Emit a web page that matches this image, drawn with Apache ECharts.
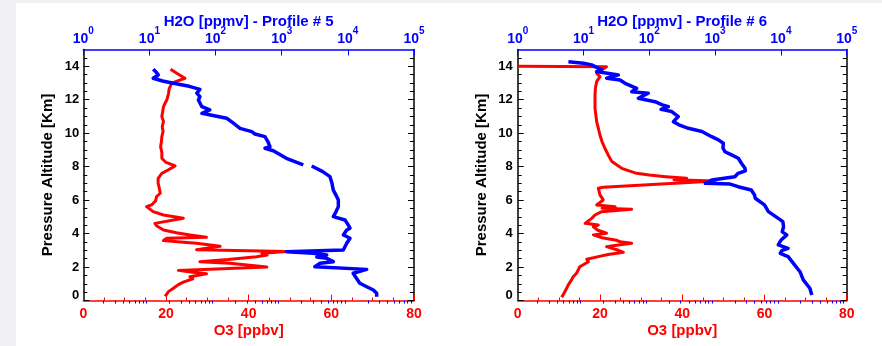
<!DOCTYPE html>
<html>
<head>
<meta charset="utf-8">
<script src="https://cdn.jsdelivr.net/npm/echarts@6/dist/echarts.min.js"></script>
<style>
  html, body { margin: 0; padding: 0; background: #f1f1f3; }
  #sheet { position: absolute; left: 16px; top: 3px; width: 866px; height: 343px; background: #ffffff; }
  #chart { position: absolute; left: 0; top: 0; width: 882px; height: 346px; }
</style>
</head>
<body>
<div id="sheet"></div>
<div id="chart"></div>
<script>
// Ozone [ppbv] vs pressure altitude [km], profile 5: [O3, altitude]
const o3Profile5 = [
  [21.1,13.82],[22.8,13.55],[24.6,13.28],[22.5,13.1],[21.4,12.98],[20.8,12.68],[20.6,12.35],
  [20.2,11.98],[19.8,11.8],[19.4,11.58],[19.2,11.3],[19.0,10.99],[19.4,10.7],[19.1,10.39],
  [19.3,10.1],[19.0,9.79],[18.9,9.5],[18.7,9.19],[19.0,8.85],[19.0,8.5],[20.0,8.25],[22.2,8.04],
  [20.5,7.8],[19.0,7.6],[18.1,7.3],[18.1,7.01],[18.4,6.7],[18.6,6.41],[17.7,6.2],[17.5,5.95],
  [16.5,5.71],[15.3,5.61],[16.9,5.31],[19.4,5.11],[24.2,4.91],[17.3,4.61],[17.8,4.45],[19.4,4.21],
  [22.5,4.05],[25.8,3.92],[29.8,3.78],[20.2,3.72],[19.4,3.58],[23.5,3.5],[27.4,3.42],[33.1,3.24],
  [27.4,3.04],[49.2,2.93],[43.2,2.82],[44.5,2.72],[41.9,2.62],[35.0,2.45],[28.2,2.32],[35.5,2.22],
  [44.4,2.0],[23.0,1.8],[26.0,1.7],[29.8,1.6],[25.8,1.42],[26.5,1.3],[24.2,1.1],[23.0,0.95],
  [21.8,0.73],[20.6,0.53],[19.8,0.25]
];

// Water vapour [ppmv] vs altitude, profile 5 (null = no measurement)
const h2oProfile5 = [
  [11.4,13.82],[12.6,13.65],[13.6,13.48],[11.4,13.28],[15.8,13.12],[23,12.98],[40,12.8],[58,12.62],
  [52,12.39],[58,12.18],[55,11.98],[62,11.58],[82,11.39],[62,11.19],[147,10.89],[186,10.6],
  [234,10.29],[352,10.09],[394,9.95],[558,9.79],[617,9.5],[665,9.19],[558,9.1],[746,8.95],
  [1175,8.5],[2118,8.1],
  null,
  [2838,8.04],[4169,7.7],[5370,7.4],[5754,7.0],[6026,6.6],[6607,6.3],[7178,6.01],[7178,5.61],
  [6607,5.3],[6026,5.01],[9057,4.81],[10000,4.55],[10790,4.32],[9616,4.21],[8531,3.92],
  [10790,3.72],[9616,3.42],[8531,3.02],[1189,2.92],[3006,2.82],[4786,2.72],[3388,2.6],
  [4786,2.52],[6026,2.32],[3802,2.22],[3162,2.02],[19275,1.86],[12023,1.63],[13490,1.33],
  [15136,1.03],[19275,0.82],[24266,0.63],[27290,0.43],[27290,0.23]
];

// Ozone [ppbv] vs altitude, profile 6
const o3Profile6 = [
  [0,14.0],[21.6,13.97],[21.2,13.92],[19.2,13.58],[20.0,13.38],[19.2,13.08],[18.9,12.7],
  [18.8,12.28],[18.8,11.9],[18.8,11.49],[19.0,11.1],[19.2,10.69],[19.6,10.3],[20.0,9.89],
  [20.5,9.5],[21.2,9.1],[22.0,8.7],[22.9,8.3],[25.3,7.9],[28.9,7.6],[32.0,7.5],[36.0,7.4],
  [41.1,7.3],[38.0,7.22],[48.0,7.14],[20.8,6.77],[19.6,6.71],[20.0,6.31],[20.8,6.01],[19.2,5.71],
  [23.7,5.61],[20.5,5.52],[27.7,5.45],[20.4,5.31],[18.8,5.11],[18.0,4.91],[18.4,4.81],[16.4,4.61],
  [19.6,4.51],[18.4,4.41],[19.5,4.2],[21.6,4.02],[18.4,3.92],[20.5,3.75],[24.0,3.6],[24.9,3.51],
  [27.7,3.42],[28.0,3.38],[24.0,3.3],[21.6,3.22],[22.0,3.12],[24.5,3.0],[25.7,2.88],[22.0,2.75],
  [19.6,2.62],[16.8,2.46],[17.2,2.32],[15.1,2.02],[14.7,1.82],[14.3,1.63],[13.5,1.42],[13.1,1.23],
  [12.3,0.93],[11.9,0.73],[11.3,0.45],[10.7,0.19]
];

// Water vapour [ppmv] vs altitude, profile 6
const h2oProfile6 = [
  [5.9,14.27],[10,14.18],[13.3,14.08],[14.1,13.98],[18.9,13.78],[15.8,13.68],[33.9,13.48],
  [22.5,13.28],[35.9,13.18],[42.8,12.98],[64.3,12.68],[54.1,12.48],[96.6,12.39],[68.1,12.09],
  [122,11.88],[158,11.69],[195,11.58],[151,11.42],[219,11.29],[276,10.99],[232,10.69],[282,10.5],
  [392,10.29],[631,10.1],[887,9.79],[1122,9.6],[1334,9.4],[1318,9.1],[1413,8.89],[1778,8.7],
  [2254,8.5],[2512,8.2],[2844,7.9],[2884,7.75],[2239,7.6],[1995,7.4],[891,7.2],[708,7.0],
  [1698,6.96],[2239,6.8],[3548,6.6],[3981,6.3],[4074,6.11],[5623,5.71],[6457,5.31],[9120,4.91],
  [10715,4.71],[10965,4.41],[10471,4.1],[12303,3.92],[10000,3.6],[9120,3.32],[12882,3.12],
  [10471,3.0],[9772,2.82],[12882,2.62],[15488,2.22],[19498,1.72],[21878,1.23],[27542,0.73],
  [29512,0.33]
];

// Tick positions
const altMajor = [0, 2, 4, 6, 8, 10, 12, 14];
const altMinor = [];
for (let v = 0.5; v < 15; v += 0.5) if (v % 2 !== 0) altMinor.push(v);
const h2oDecades = [1, 10, 100, 1000, 10000, 100000];
const h2oMinor = [];
for (let d = 1; d < 100000; d *= 10) for (let k = 2; k <= 9; k++) h2oMinor.push(k * d);

const FONT = '"Liberation Sans", Arial, Helvetica, sans-serif';
const RED = '#ff0000', BLUE = '#0000ff', BLACK = '#000000';

const panels = [
  { left: 83.3, width: 330.7, title: 'H2O [ppmv] - Profile # 5', o3: o3Profile5, h2o: h2oProfile5, labelMargin: 4 },
  { left: 517.7, width: 329, title: 'H2O [ppmv] - Profile # 6', o3: o3Profile6, h2o: h2oProfile6, labelMargin: 5 }
];

const grid = [], xAxis = [], yAxis = [], series = [];

panels.forEach((p, gi) => {
  grid.push({ left: p.left, top: 49.5, width: p.width, height: 251, containLabel: false });

  const xO3 = xAxis.length;
  xAxis.push({
    gridIndex: gi, type: 'value', position: 'bottom', min: 0, max: 80, interval: 20,
    axisLine: { show: true, onZero: false, lineStyle: { color: RED, width: 1.5 } },
    axisTick: { show: true, inside: true, length: 6, lineStyle: { color: RED, width: 1 } },
    minorTick: { show: true, splitNumber: 4, length: 3, lineStyle: { color: RED, width: 1 } },
    splitLine: { show: false },
    axisLabel: { color: RED, fontFamily: FONT, fontWeight: 'bold', fontSize: 14, margin: 7 },
    name: 'O3 [ppbv]', nameLocation: 'middle', nameGap: 23, nameMoveOverlap: false,
    nameTextStyle: { color: RED, fontFamily: FONT, fontWeight: 'bold', fontSize: 15 }
  });

  const xH2O = xAxis.length;
  xAxis.push({
    gridIndex: gi, type: 'log', logBase: 10, position: 'top', min: 1, max: 100000,
    axisLine: { show: true, onZero: false, lineStyle: { color: BLUE, width: 1.5 } },
    axisTick: { show: true, inside: true, length: 6, customValues: h2oDecades, lineStyle: { color: BLUE, width: 1 } },
    splitLine: { show: false },
    axisLabel: {
      customValues: h2oDecades, margin: 3,
      formatter: v => '{b|10}{s|' + Math.round(Math.log10(v)) + '}',
      rich: {
        b: { color: BLUE, fontFamily: FONT, fontWeight: 'bold', fontSize: 14, lineHeight: 16, verticalAlign: 'bottom' },
        s: { color: BLUE, fontFamily: FONT, fontWeight: 'bold', fontSize: 10, lineHeight: 10, padding: [0, 0, 10, 0], verticalAlign: 'bottom' }
      }
    },
    name: p.title, nameLocation: 'middle', nameGap: 20, nameMoveOverlap: false,
    nameTextStyle: { color: BLUE, fontFamily: FONT, fontWeight: 'bold', fontSize: 15 }
  });

  xAxis.push({
    gridIndex: gi, type: 'log', logBase: 10, position: 'top', min: 1, max: 100000,
    axisLine: { show: false },
    axisTick: { show: true, inside: true, length: 3, customValues: h2oMinor, lineStyle: { color: BLUE, width: 1 } },
    axisLabel: { show: false }, splitLine: { show: false }
  });

  const yMain = yAxis.length;
  yAxis.push({
    gridIndex: gi, type: 'value', position: 'left', min: 0, max: 15,
    axisLine: { show: true, onZero: false, lineStyle: { color: BLACK, width: 1.5 } },
    axisTick: { show: true, inside: true, length: 6, customValues: altMajor, lineStyle: { color: BLACK, width: 1 } },
    splitLine: { show: false },
    axisLabel: {
      customValues: altMajor, margin: p.labelMargin,
      color: BLACK, fontFamily: FONT, fontWeight: 'bold', fontSize: 13,
      formatter: v => v === 0 ? '{lo|0}' : String(v),
      rich: { lo: { color: BLACK, fontFamily: FONT, fontWeight: 'bold', fontSize: 13, padding: [0, 0, 11, 0] } }
    },
    name: 'Pressure Altitude [Km]', nameLocation: 'middle', nameGap: 28, nameRotate: 90, nameMoveOverlap: false,
    nameTextStyle: { color: BLACK, fontFamily: FONT, fontWeight: 'bold', fontSize: 15 }
  });
  yAxis.push({
    gridIndex: gi, type: 'value', position: 'left', min: 0, max: 15,
    axisLine: { show: false },
    axisTick: { show: true, inside: true, length: 4, customValues: altMinor, lineStyle: { color: BLACK, width: 1 } },
    axisLabel: { show: false }, splitLine: { show: false }
  });
  yAxis.push({
    gridIndex: gi, type: 'value', position: 'right', min: 0, max: 15,
    axisLine: { show: true, onZero: false, lineStyle: { color: BLACK, width: 1.5 } },
    axisTick: { show: true, inside: true, length: 6, customValues: altMajor, lineStyle: { color: BLACK, width: 1 } },
    axisLabel: { show: false }, splitLine: { show: false }
  });
  yAxis.push({
    gridIndex: gi, type: 'value', position: 'right', min: 0, max: 15,
    axisLine: { show: false },
    axisTick: { show: true, inside: true, length: 4, customValues: altMinor, lineStyle: { color: BLACK, width: 1 } },
    axisLabel: { show: false }, splitLine: { show: false }
  });

  series.push({
    type: 'line', name: 'O3', xAxisIndex: xO3, yAxisIndex: yMain,
    data: p.o3, showSymbol: false, symbol: 'none', clip: true,
    lineStyle: { color: RED, width: 3, join: 'round' }, z: 3
  });
  series.push({
    type: 'line', name: 'H2O', xAxisIndex: xH2O, yAxisIndex: yMain,
    data: p.h2o.map(d => d === null ? ['-', '-'] : d), showSymbol: false, symbol: 'none', clip: true,
    connectNulls: false,
    lineStyle: { color: BLUE, width: 3.5, join: 'round' }, z: 4
  });
});

const chart = echarts.init(document.getElementById('chart'), null, { renderer: 'canvas' });
chart.setOption({
  animation: false,
  backgroundColor: 'transparent',
  grid, xAxis, yAxis, series
});
</script>
</body>
</html>
